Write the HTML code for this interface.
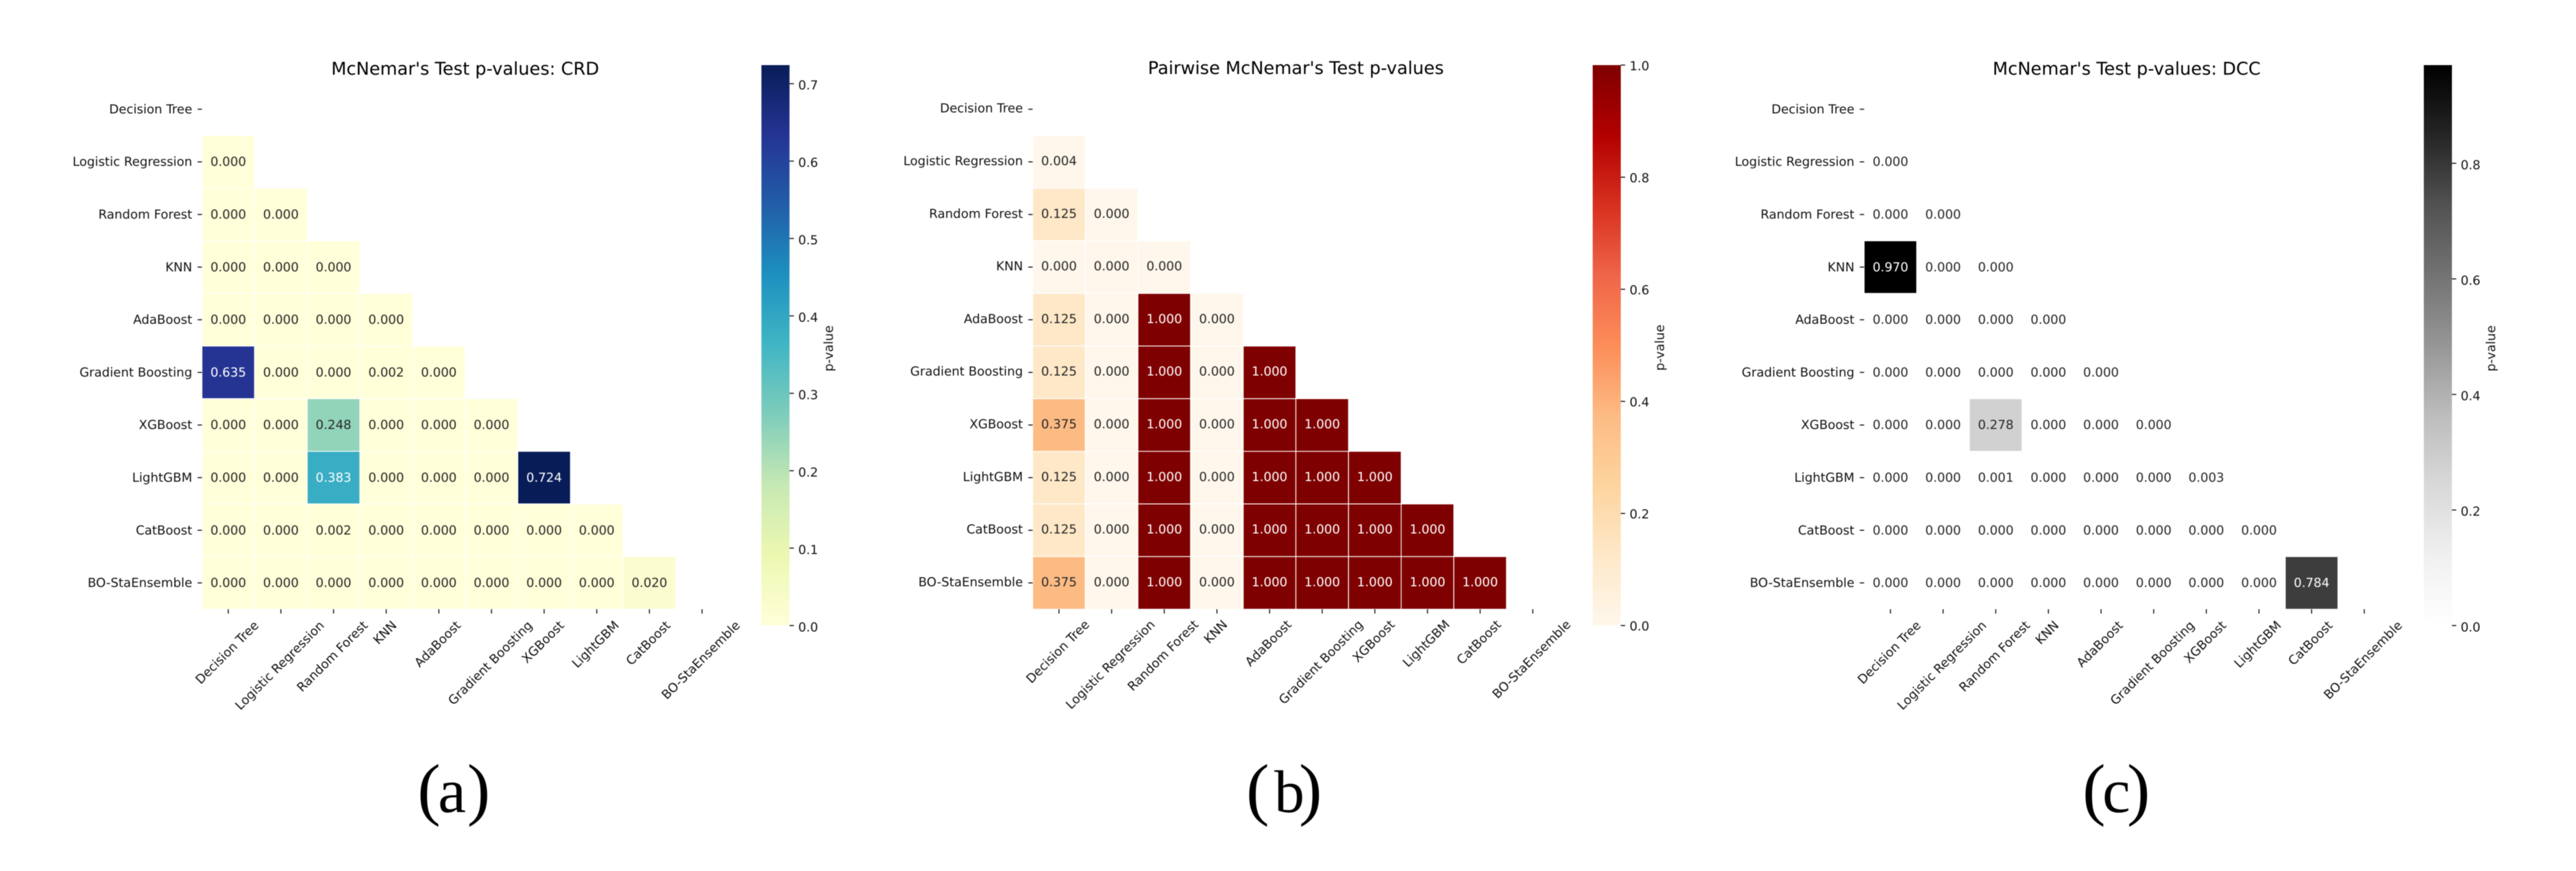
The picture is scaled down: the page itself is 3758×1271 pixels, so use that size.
<!DOCTYPE html>
<html lang="en">
<head>
<meta charset="utf-8">
<title>McNemar's Test p-values</title>
<style>
html,body{margin:0;padding:0;background:#fff;}
svg{display:block;font-family:"DejaVu Sans","Liberation Sans",sans-serif;text-rendering:geometricPrecision;filter:blur(0.55px);}
.caption{font-family:"Liberation Serif",serif;fill:#000;}
</style>
</head>
<body>
<svg id="figure" xmlns="http://www.w3.org/2000/svg" width="3758" height="1271" viewBox="0 0 3758 1271">
<rect x="0" y="0" width="3758" height="1271" fill="#ffffff"/>
<defs id="defs"></defs>
<text class="caption" y="1185"><tspan x="609" font-size="101">(</tspan><tspan x="639" font-size="92">a</tspan><tspan x="681.5" font-size="101">)</tspan></text>
<text class="caption" y="1185"><tspan x="1818" font-size="101">(</tspan><tspan x="1859" font-size="88">b</tspan><tspan x="1895" font-size="101">)</tspan></text>
<text class="caption" y="1185"><tspan x="3038" font-size="101">(</tspan><tspan x="3067" font-size="92">c</tspan><tspan x="3103" font-size="101">)</tspan></text>
</svg>
<script>
const categories = ["Decision Tree","Logistic Regression","Random Forest","KNN","AdaBoost","Gradient Boosting","XGBoost","LightGBM","CatBoost","BO-StaEnsemble"];

const crdValues = [
  [],
  [0.000],
  [0.000,0.000],
  [0.000,0.000,0.000],
  [0.000,0.000,0.000,0.000],
  [0.635,0.000,0.000,0.002,0.000],
  [0.000,0.000,0.248,0.000,0.000,0.000],
  [0.000,0.000,0.383,0.000,0.000,0.000,0.724],
  [0.000,0.000,0.002,0.000,0.000,0.000,0.000,0.000],
  [0.000,0.000,0.000,0.000,0.000,0.000,0.000,0.000,0.020]
];
const pairwiseValues = [
  [],
  [0.004],
  [0.125,0.000],
  [0.000,0.000,0.000],
  [0.125,0.000,1.000,0.000],
  [0.125,0.000,1.000,0.000,1.000],
  [0.375,0.000,1.000,0.000,1.000,1.000],
  [0.125,0.000,1.000,0.000,1.000,1.000,1.000],
  [0.125,0.000,1.000,0.000,1.000,1.000,1.000,1.000],
  [0.375,0.000,1.000,0.000,1.000,1.000,1.000,1.000,1.000]
];
const dccValues = [
  [],
  [0.000],
  [0.000,0.000],
  [0.970,0.000,0.000],
  [0.000,0.000,0.000,0.000],
  [0.000,0.000,0.000,0.000,0.000],
  [0.000,0.000,0.278,0.000,0.000,0.000],
  [0.000,0.000,0.001,0.000,0.000,0.000,0.003],
  [0.000,0.000,0.000,0.000,0.000,0.000,0.000,0.000],
  [0.000,0.000,0.000,0.000,0.000,0.000,0.000,0.000,0.784]
];
const crdTicks = ["0.0","0.1","0.2","0.3","0.4","0.5","0.6","0.7"];
const pairwiseTicks = ["0.0","0.2","0.4","0.6","0.8","1.0"];
const dccTicks = ["0.0","0.2","0.4","0.6","0.8"];

const ylgnbuStops = ["#ffffd9","#edf8b1","#c7e9b4","#7fcdbb","#41b6c4","#1d91c0","#225ea8","#253494","#081d58"];
const orrdStops = ["#fff7ec","#fee8c8","#fdd49e","#fdbb84","#fc8d59","#ef6548","#d7301f","#b30000","#7f0000"];
const greysStops = ["#ffffff","#f0f0f0","#d9d9d9","#bdbdbd","#969696","#737373","#525252","#252525","#000000"];

const NS = "http://www.w3.org/2000/svg";
const fig = document.getElementById("figure");
const defs = document.getElementById("defs");

const PITCH = 76.8, TOP = 121, BOTTOM = TOP + PITCH * categories.length;
const CB_TOP = 95, CB_BOTTOM = 912.8, CB_W = 41, TICK = 6.35, PAD = 6.35;
const FS = 18.2, TITLE_FS = 25.7, INK = "#262626", LABEL = "#111111";

function make(tag, attrs, parent) {
  const el = document.createElementNS(NS, tag);
  for (const k in attrs) el.setAttribute(k, attrs[k]);
  parent.appendChild(el);
  return el;
}
function hexToRgb(h) { return [1,3,5].map(i => parseInt(h.substr(i,2),16)); }
function cmapColor(stops, t) {
  t = Math.max(0, Math.min(1, t));
  const p = t * (stops.length - 1), i = Math.min(Math.floor(p), stops.length - 2), f = p - i;
  const a = hexToRgb(stops[i]), b = hexToRgb(stops[i+1]);
  return a.map((v,k) => Math.round(v + (b[k]-v)*f));
}
function luminance(rgb) {
  const l = rgb.map(v => { v/=255; return v<=0.03928 ? v/12.92 : Math.pow((v+0.055)/1.055,2.4); });
  return 0.2126*l[0]+0.7152*l[1]+0.0722*l[2];
}
function slug(s) { return s.toLowerCase().replace(/[^a-z0-9]+/g,"-"); }

function drawPanel(p) {
  const values = p.values, ticks = p.ticks, stops = p.stops;
  const vmax = Math.max.apply(null, values.map(r => r.length ? Math.max.apply(null, r) : 0));
  const xCenter = c => p.left + (c + 0.5) * PITCH;
  const yCenter = r => TOP + (r + 0.5) * PITCH;
  const cbY = v => CB_BOTTOM - (v / vmax) * (CB_BOTTOM - CB_TOP);

  const g = make("g", {}, fig);
  
  

  const title = make("text", {x: p.left + 384 + p.titleDx, y: 109 + p.textDy, "text-anchor":"middle", "font-size":TITLE_FS, fill:"#000"}, g);
  
  
  title.textContent = p.title;

  values.forEach((row, r) => {
    row.forEach((v, c) => {
      const rgb = cmapColor(stops, v / vmax);
      const cell = make("rect", {x: p.left + c*PITCH, y: TOP + r*PITCH, width: PITCH, height: PITCH, fill:"rgb("+rgb.join(",")+")", stroke:"#ffffff", "stroke-width":1.2}, g);
      
      
    });
  });
  values.forEach((row, r) => {
    row.forEach((v, c) => {
      const rgb = cmapColor(stops, v / vmax);
      const label = make("text", {x: xCenter(c), y: yCenter(r) + 6 + p.textDy, "text-anchor":"middle", "font-size":FS, fill: luminance(rgb) > 0.408 ? INK : "#ffffff"}, g);
      
      
      label.textContent = v.toFixed(3);
    });
  });

  categories.forEach((name, i) => {
    const yt = make("line", {x1: p.left - TICK, x2: p.left, y1: yCenter(i), y2: yCenter(i), stroke:"#111", "stroke-width":1.45}, g);
    
    

    const yl = make("text", {x: p.left - TICK - PAD - 1.5, y: yCenter(i) + 6 + p.textDy, "text-anchor":"end", "font-size":FS, fill:LABEL}, g);
    
    
    yl.textContent = name;

    const xt = make("line", {x1: xCenter(i), x2: xCenter(i), y1: BOTTOM, y2: BOTTOM + TICK, stroke:"#111", "stroke-width":1.45}, g);
    
    

    const xl = make("text", {"text-anchor":"middle", "font-size":FS, fill:LABEL, y: 5}, g);
    
    
    xl.textContent = name;
    const w = xl.getComputedTextLength();
    const boxH = (w + 21) * Math.SQRT1_2;
    const cy = BOTTOM + TICK + PAD + boxH / 2 + p.textDy + 1;
    xl.setAttribute("transform", "translate(" + (xCenter(i) - 1) + "," + cy + ") rotate(-45)");
  });

  const gradId = p.id + "-gradient";
  const grad = make("linearGradient", {id: gradId, x1:0, y1:1, x2:0, y2:0}, defs);
  stops.forEach((s, i) => { make("stop", {offset: i/(stops.length-1), "stop-color": s}, grad); });

  const bar = make("rect", {x: p.cbLeft, y: CB_TOP, width: CB_W, height: CB_BOTTOM - CB_TOP, fill:"url(#"+gradId+")"}, g);
  
  

  ticks.forEach(t => {
    const y = cbY(parseFloat(t));
    const m = make("line", {x1: p.cbLeft + CB_W, x2: p.cbLeft + CB_W + TICK, y1: y, y2: y, stroke:"#111", "stroke-width":1.45}, g);
    
    
    const l = make("text", {x: p.cbLeft + CB_W + TICK + PAD, y: y + 8.5 + p.textDy, "font-size":FS, fill:LABEL}, g);
    
    
    l.textContent = t;
  });

  const cbx = p.cbLeft + CB_W + 63;
  const cbl = make("text", {"text-anchor":"middle", "font-size":FS, fill:LABEL, transform:"translate(" + cbx + "," + (508.5 + p.textDy) + ") rotate(-90)"}, g);
  
  
  cbl.textContent = "p-value";
}

drawPanel({id:"crd", title:"McNemar's Test p-values: CRD", values:crdValues, ticks:crdTicks, stops:ylgnbuStops, left:294.6, cbLeft:1110.8, textDy:0, titleDx:0});
drawPanel({id:"pairwise", title:"Pairwise McNemar's Test p-values", values:pairwiseValues, ticks:pairwiseTicks, stops:orrdStops, left:1506.5, cbLeft:2323.5, textDy:-1.2, titleDx:0});
drawPanel({id:"dcc", title:"McNemar's Test p-values: DCC", values:dccValues, ticks:dccTicks, stops:greysStops, left:2719.5, cbLeft:3536, textDy:0, titleDx:-1});
</script>
</body>
</html>
